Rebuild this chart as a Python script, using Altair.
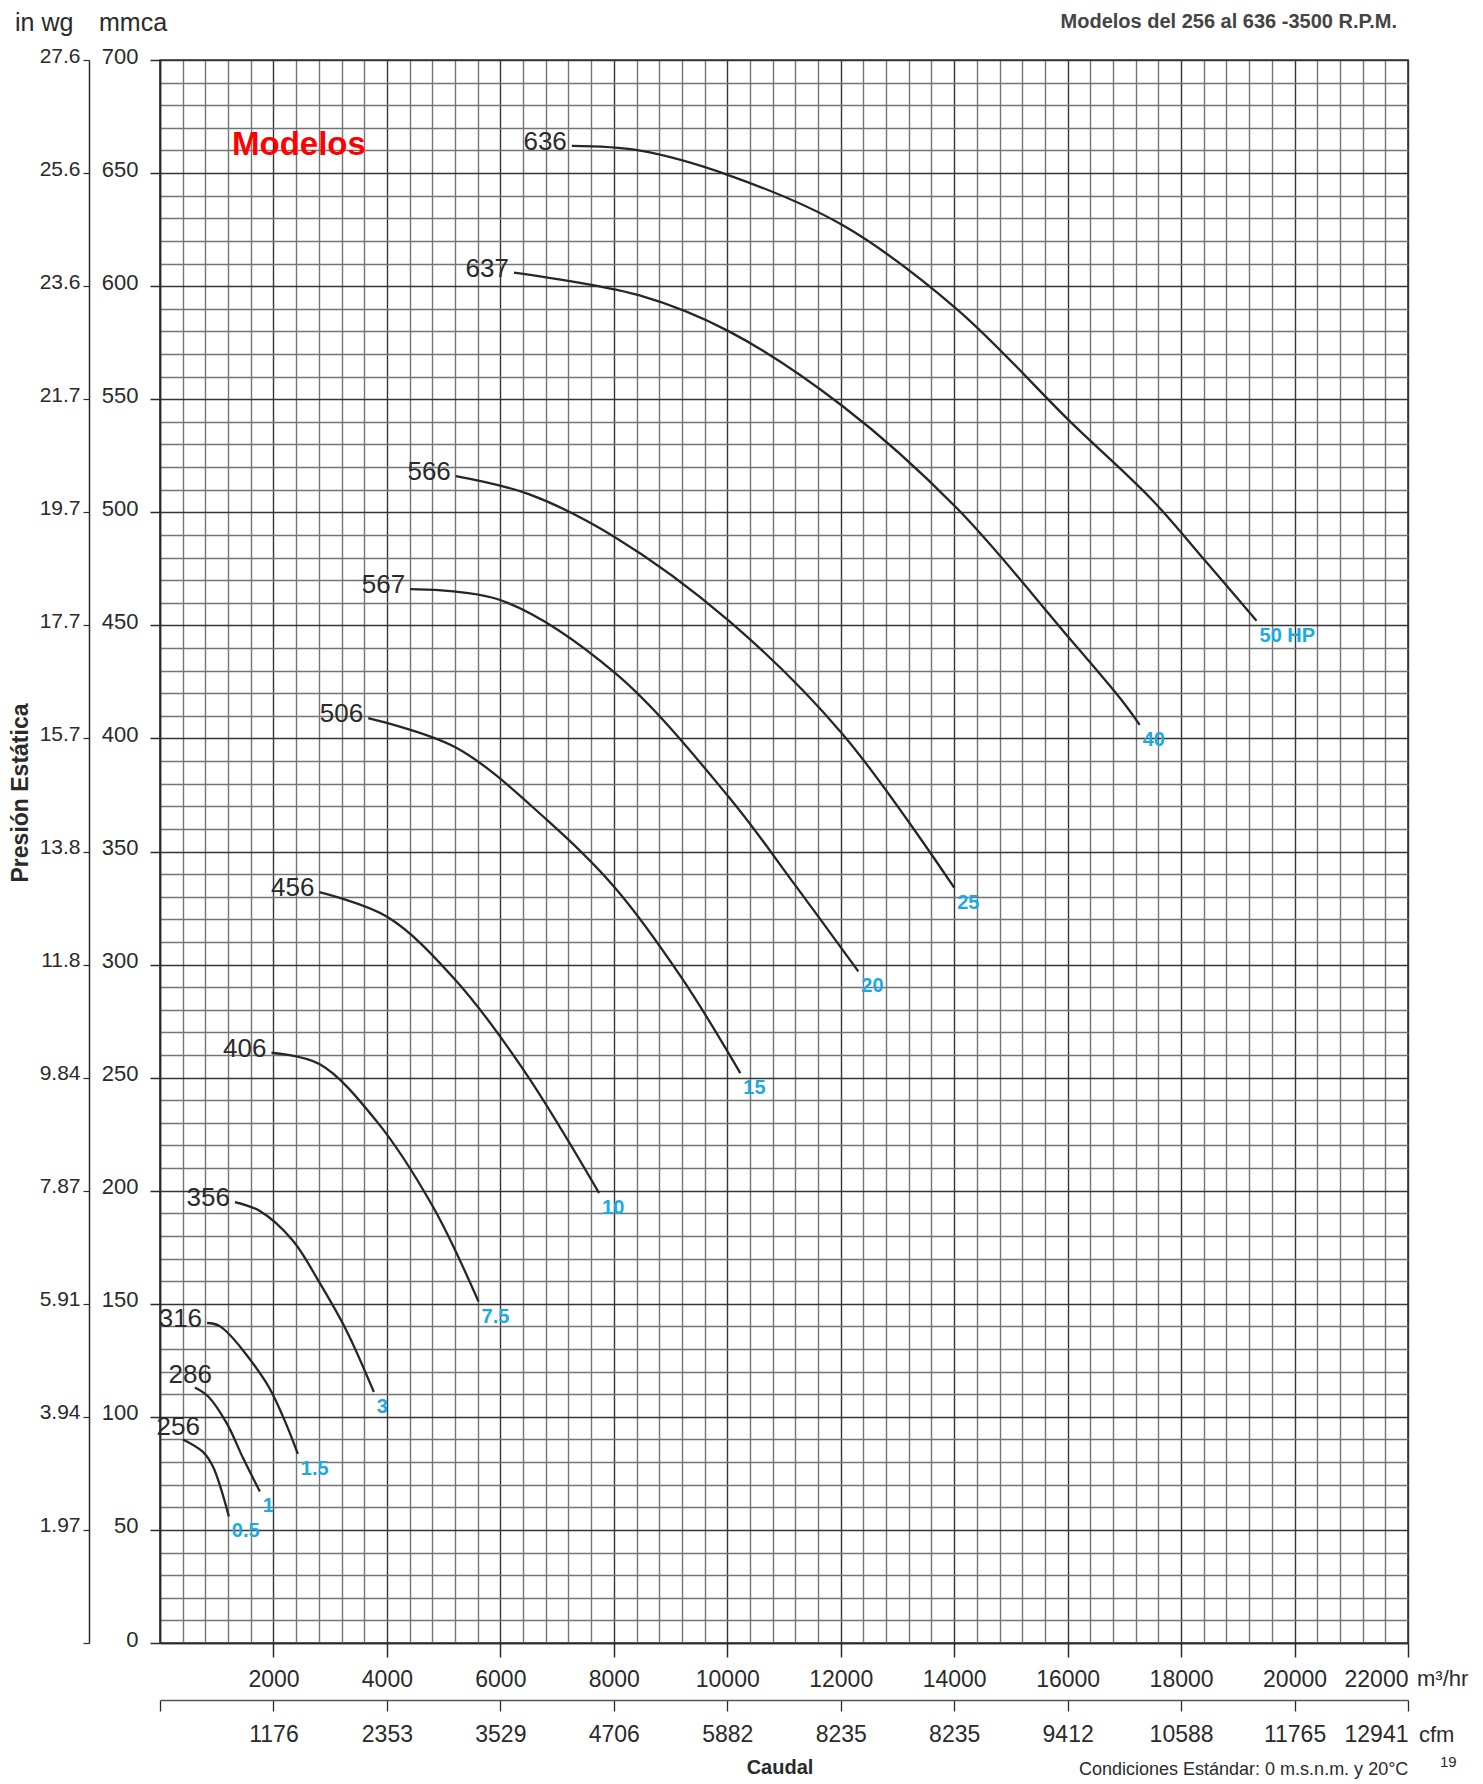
import json
import altair as alt
import pandas as pd

# ---------------- data ----------------
models = ["256", "286", "316", "356", "406", "456", "506", "567", "566", "637", "636"]
power = ["0.5", "1", "1.5", "3", "7.5", "10", "15", "20", "25", "40", "50 HP"]

# caudal (m3/hr) and presión estática (mmca)
q_256 = [405, 757, 933, 1214]
p_256 = [90, 84.5, 78, 56]
q_286 = [616, 850, 1180, 1460, 1760]
p_286 = [113, 109, 97, 82, 67]
q_316 = [830, 1060, 1850, 2170, 2430]
p_316 = [141.5, 140, 116, 100, 83.6]
q_356 = [1320, 1760, 2340, 2820, 3290, 3770]
p_356 = [195, 191, 178, 159, 138, 111]
q_406 = [1965, 2810, 3810, 4810, 5615]
p_406 = [261, 256, 231, 193, 151]
q_456 = [2810, 4010, 5215, 6420, 7740]
p_456 = [332, 321, 293, 253, 199]
q_506 = [3670, 5215, 6820, 8020, 9200, 10230]
p_506 = [409, 396, 364, 334, 294, 252]
q_567 = [4410, 6020, 8020, 10030, 11200, 12310]
p_567 = [466, 461, 429, 374, 335, 297]
q_566 = [5215, 6500, 8020, 10030, 12030, 14000]
p_566 = [516, 508, 489, 452, 402, 334]
q_637 = [6240, 8440, 10030, 12030, 14040, 15940, 16950, 17270]
p_637 = [606, 596, 580, 547, 502, 447, 417, 406]
q_636 = [7260, 8440, 10030, 12030, 14040, 16050, 17470, 18410, 19330]
p_636 = [662, 660, 649, 627, 590, 540, 506, 479, 452]

q_ticks = [2000, 4000, 6000, 8000, 10000, 12000, 14000, 16000, 18000, 20000, 22000]
q_tick_labels = ["2000", "4000", "6000", "8000", "10000", "12000", "14000",
                 "16000", "18000", "20000", "22000"]
cfm_ticks = [0, 2000, 4000, 6000, 8000, 10000, 12000, 14000, 16000, 18000, 20000, 22000]
cfm_labels = ["", "1176", "2353", "3529", "4706", "5882", "8235", "8235", "9412",
              "10588", "11765", "12941"]
mmca_ticks = [0, 50, 100, 150, 200, 250, 300, 350, 400, 450, 500, 550, 600, 650, 700]
mmca_labels = ["0", "50", "100", "150", "200", "250", "300", "350", "400", "450",
               "500", "550", "600", "650", "700"]
inwg_labels = ["", "1.97", "3.94", "5.91", "7.87", "9.84", "11.8", "13.8", "15.7",
               "17.7", "19.7", "21.7", "23.6", "25.6", "27.6"]
q_grid = list(range(0, 22001, 400))
p_grid = list(range(0, 701, 10))

series = [(q_256, p_256), (q_286, p_286), (q_316, p_316), (q_356, p_356),
          (q_406, p_406), (q_456, p_456), (q_506, p_506), (q_567, p_567),
          (q_566, p_566), (q_637, p_637), (q_636, p_636)]

rows, starts, ends = [], [], []
for m, hp, (qs, ps) in zip(models, power, series):
    for i, (q, p) in enumerate(zip(qs, ps)):
        rows.append({"model": m, "Q": q, "P": p, "i": i})
    starts.append({"model": m, "Q": qs[0], "P": ps[0]})
    ends.append({"hp": hp, "Q": qs[-1], "P": ps[-1]})
lines_df = pd.DataFrame(rows)
start_df = pd.DataFrame(starts)
end_df = pd.DataFrame(ends)

# ---------------- style ----------------
SANS = "Liberation Sans, Arial, Helvetica, sans-serif"
INK = "#2a2a2a"
BLUE = "#1DA9E1"

W, H = 1248, 1583

x_scale = alt.Scale(domain=[0, 22000], nice=False, zero=False)
y_scale = alt.Scale(domain=[0, 700], nice=False, zero=False)


def lookup(vals, labels):
    v0 = vals[0]
    step = vals[1] - vals[0]
    return f"{json.dumps(labels)}[round((datum.value - {v0}) / {step})]"


grid_x_axis = alt.Axis(
    orient="bottom", values=q_grid, grid=True, gridWidth=1.4,
    gridColor={"condition": {"test": "datum.value % 2000 === 0", "value": "#363636"},
               "value": "#747474"},
    labels=False, ticks=False, domain=False, title=None)
grid_y_axis = alt.Axis(
    orient="left", values=p_grid, grid=True, gridWidth=1.4,
    gridColor={"condition": {"test": "datum.value % 50 === 0", "value": "#363636"},
               "value": "#747474"},
    labels=False, ticks=False, domain=False, title=None)

m3_axis = alt.Axis(
    orient="bottom", values=q_ticks, labelExpr=lookup(q_ticks, q_tick_labels),
    grid=False, tickSize=14, tickWidth=1.5, tickColor=INK, domain=True,
    domainColor=INK, domainWidth=1.6, labelFont=SANS, labelFontSize=23,
    labelColor=INK, labelPadding=11, labelFlush=True, labelOverlap=False, title=None)
cfm_axis = alt.Axis(
    orient="bottom", offset=57, values=cfm_ticks, labelExpr=lookup(cfm_ticks, cfm_labels),
    grid=False, tickSize=11, tickWidth=1.3, tickColor=INK, domain=True,
    domainColor="#555555", domainWidth=1.5, labelFont=SANS, labelFontSize=23,
    labelColor=INK, labelPadding=12, labelFlush=True, labelOverlap=False, title=None)
mmca_axis = alt.Axis(
    orient="left", values=mmca_ticks, labelExpr=lookup(mmca_ticks, mmca_labels),
    grid=False, tickSize=10, tickWidth=1.5, tickColor=INK, domain=True,
    domainColor=INK, domainWidth=1.6, labelFont=SANS, labelFontSize=22,
    labelColor=INK, labelPadding=12, labelOffset=-4, labelOverlap=False, title=None)
inwg_axis = alt.Axis(
    orient="left", offset=71, values=mmca_ticks, labelExpr=lookup(mmca_ticks, inwg_labels),
    grid=False, tickSize=6, tickWidth=1.2, tickColor=INK, domain=True,
    domainColor=INK, domainWidth=1.5, labelFont=SANS, labelFontSize=21,
    labelColor=INK, labelPadding=3, labelOffset=-4, labelOverlap=False, title=None)

# ---------------- layers ----------------
curves = alt.Chart(lines_df).mark_line(
    interpolate="catmull-rom", color="#262626", strokeWidth=2.3
).encode(
    x=alt.X("Q:Q", scale=x_scale, axis=grid_x_axis),
    y=alt.Y("P:Q", scale=y_scale, axis=grid_y_axis),
    detail="model:N",
    order="i:Q",
)

model_labels = alt.Chart(start_df).transform_filter(
    ~alt.FieldOneOfPredicate(field="model", oneOf=["256", "286"])
).mark_text(
    align="right", baseline="middle", dx=-5, dy=-4, font=SANS, fontSize=26, color=INK
).encode(
    x=alt.X("Q:Q", scale=x_scale, axis=m3_axis),
    y=alt.Y("P:Q", scale=y_scale, axis=mmca_axis),
    text="model:N",
)

model_labels_low = alt.Chart(start_df).transform_filter(
    alt.FieldOneOfPredicate(field="model", oneOf=["256", "286"])
).mark_text(
    align="right", baseline="middle", dx=17, dy=-12, font=SANS, fontSize=26, color=INK
).encode(
    x=alt.X("Q:Q", scale=x_scale, axis=None),
    y=alt.Y("P:Q", scale=y_scale, axis=None),
    text="model:N",
)

hp_labels = alt.Chart(end_df).mark_text(
    align="left", baseline="middle", dx=3, dy=15, font=SANS, fontSize=20,
    fontWeight="bold", color=BLUE
).encode(
    x=alt.X("Q:Q", scale=x_scale, axis=cfm_axis),
    y=alt.Y("P:Q", scale=y_scale, axis=inwg_axis),
    text="hp:N",
)


def note(text, x, y, **kw):
    return alt.Chart(pd.DataFrame({"t": [text]})).mark_text(**kw).encode(
        x=alt.value(x), y=alt.value(y), text="t:N")


notes = [
    note("Modelos", 72, 85, align="left", baseline="middle", font=SANS,
         fontSize=33, fontWeight="bold", color="#FF0000"),
    note("in wg", -145, -29.5, align="left", baseline="alphabetic", font=SANS,
         fontSize=25, color=INK),
    note("mmca", -61, -29.5, align="left", baseline="alphabetic", font=SANS,
         fontSize=25, color=INK),
    note("Presión Estática", -139, 733, align="center", baseline="middle", angle=270,
         font=SANS, fontSize=23, fontWeight="bold", color=INK),
    note("m³/hr", W + 9, 1619, align="left", baseline="middle", font=SANS,
         fontSize=22, color=INK),
    note("cfm", W + 11, 1675, align="left", baseline="middle", font=SANS,
         fontSize=22, color=INK),
    note("Caudal", 620, 1708, align="center", baseline="middle", font=SANS,
         fontSize=20, fontWeight="bold", color=INK),
    note("Condiciones Estándar: 0 m.s.n.m. y 20°C", 919, 1710, align="left",
         baseline="middle", font=SANS, fontSize=18, color=INK),
    note("19", 1280, 1702, align="left", baseline="middle", font=SANS,
         fontSize=15, color=INK),
    note("Modelos del 256 al 636 -3500 R.P.M.", 1237, -32, align="right",
         baseline="alphabetic", font=SANS, fontSize=20, fontWeight="bold", color="#444444"),
]

chart = alt.layer(curves, model_labels, model_labels_low, hp_labels, *notes).resolve_axis(
    x="independent", y="independent"
).properties(
    width=W, height=H,
    autosize=alt.AutoSizeParams(type="none"),
    padding={"left": 152, "top": 52, "right": 66, "bottom": 141},
).configure_view(stroke="#333333", strokeWidth=1.6)

chart.save("out.html", embed_options={"renderer": "svg", "actions": False})
